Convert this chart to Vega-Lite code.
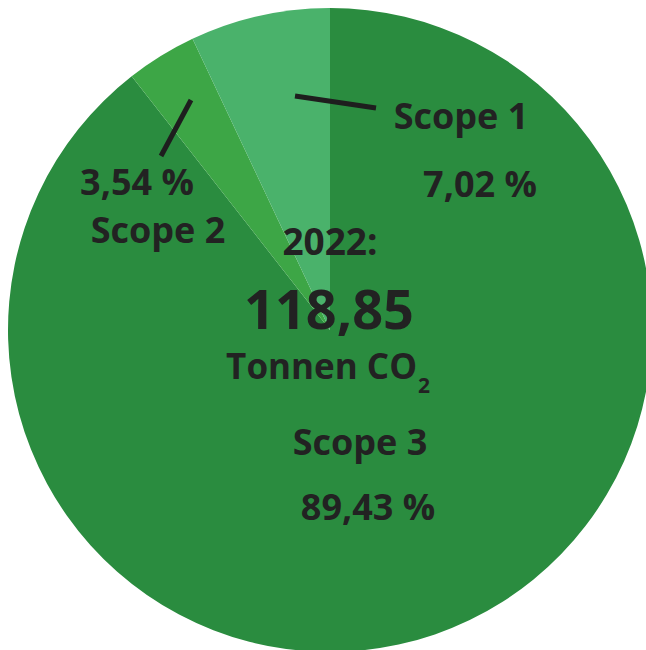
{
  "$schema": "https://vega.github.io/schema/vega-lite/v6.json",
  "width": 660,
  "height": 660,
  "autosize": "none",
  "padding": 0,
  "background": "white",
  "view": {"stroke": null},
  "config": {"text": {"font": "Open Sans", "fontWeight": "bold", "color": "#222222"}},
  "data": {"values": [
    {"scope": "Scope 3", "pct": 89.43, "order": 1, "label": "89,43 %"},
    {"scope": "Scope 2", "pct": 3.54, "order": 2, "label": "3,54 %"},
    {"scope": "Scope 1", "pct": 7.02, "order": 3, "label": "7,02 %"}
  ]},
  "layer": [
    {
      "mark": {"type": "arc", "outerRadius": 322},
      "encoding": {
        "theta": {"field": "pct", "type": "quantitative", "stack": true},
        "order": {"field": "order", "type": "quantitative"},
        "color": {"field": "scope", "type": "nominal", "legend": null,
          "scale": {"domain": ["Scope 3", "Scope 2", "Scope 1"], "range": ["#2a8c3f", "#3da646", "#4ab26b"]}}
      }
    },
    {
      "transform": [{"filter": "datum.scope == 'Scope 1'"}],
      "mark": {"type": "rule", "strokeWidth": 5, "color": "#1e1e1e"},
      "encoding": {"x": {"value": 295}, "y": {"value": 96}, "x2": {"value": 376}, "y2": {"value": 108}}
    },
    {
      "transform": [{"filter": "datum.scope == 'Scope 2'"}],
      "mark": {"type": "rule", "strokeWidth": 5, "color": "#1e1e1e"},
      "encoding": {"x": {"value": 191}, "y": {"value": 100}, "x2": {"value": 161}, "y2": {"value": 156}}
    },
    {
      "transform": [{"filter": "datum.scope == 'Scope 1'"}],
      "mark": {"type": "text", "fontSize": 36, "align": "center", "baseline": "alphabetic", "x": 461, "y": 129},
      "encoding": {"text": {"field": "scope"}}
    },
    {
      "transform": [{"filter": "datum.scope == 'Scope 1'"}],
      "mark": {"type": "text", "fontSize": 36, "align": "center", "baseline": "alphabetic", "x": 480, "y": 197},
      "encoding": {"text": {"field": "label"}}
    },
    {
      "transform": [{"filter": "datum.scope == 'Scope 2'"}],
      "mark": {"type": "text", "fontSize": 36, "align": "center", "baseline": "alphabetic", "x": 137, "y": 195},
      "encoding": {"text": {"field": "label"}}
    },
    {
      "transform": [{"filter": "datum.scope == 'Scope 2'"}],
      "mark": {"type": "text", "fontSize": 36, "align": "center", "baseline": "alphabetic", "x": 158, "y": 243},
      "encoding": {"text": {"field": "scope"}}
    },
    {
      "transform": [{"filter": "datum.scope == 'Scope 3'"}],
      "mark": {"type": "text", "fontSize": 36, "align": "center", "baseline": "alphabetic", "x": 360, "y": 455},
      "encoding": {"text": {"field": "scope"}}
    },
    {
      "transform": [{"filter": "datum.scope == 'Scope 3'"}],
      "mark": {"type": "text", "fontSize": 36, "align": "center", "baseline": "alphabetic", "x": 368, "y": 520},
      "encoding": {"text": {"field": "label"}}
    },
    {
      "transform": [{"filter": "datum.scope == 'Scope 3'"}],
      "mark": {"type": "text", "fontSize": 37, "align": "center", "baseline": "alphabetic", "x": 330, "y": 255, "text": "2022:"},
      "encoding": {}
    },
    {
      "transform": [{"filter": "datum.scope == 'Scope 3'"}],
      "mark": {"type": "text", "fontSize": 54, "align": "center", "baseline": "alphabetic", "x": 329, "y": 329, "text": "118,85"},
      "encoding": {}
    },
    {
      "transform": [{"filter": "datum.scope == 'Scope 3'"}],
      "mark": {"type": "text", "fontSize": 35, "align": "right", "baseline": "alphabetic", "x": 417, "y": 379, "text": "Tonnen CO"},
      "encoding": {}
    },
    {
      "transform": [{"filter": "datum.scope == 'Scope 3'"}],
      "mark": {"type": "text", "fontSize": 21, "align": "left", "baseline": "alphabetic", "x": 418, "y": 393, "text": "2"},
      "encoding": {}
    }
  ]
}
